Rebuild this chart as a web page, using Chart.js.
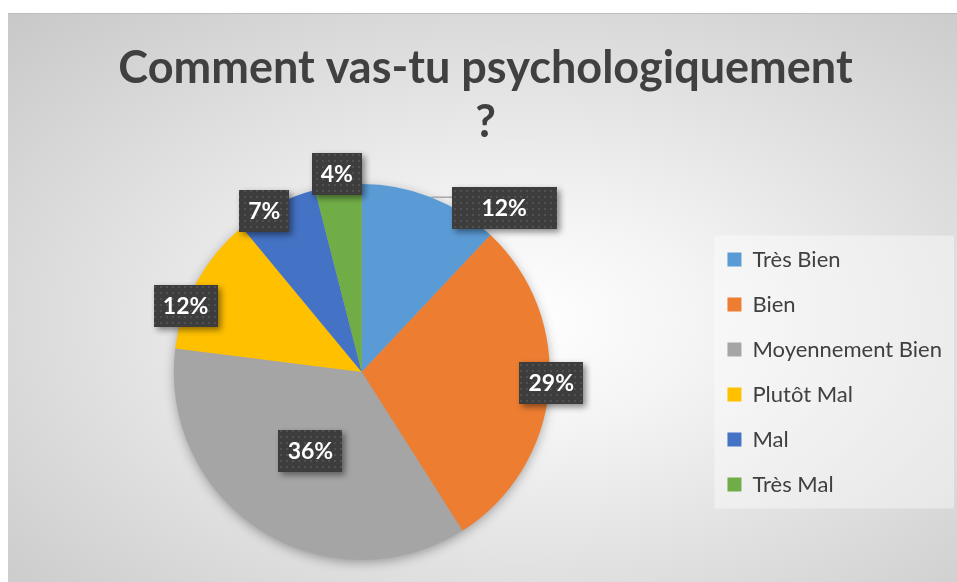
<!DOCTYPE html>
<html lang="fr">
<head>
    <meta charset="UTF-8">
    <title>Comment vas-tu psychologiquement ?</title>
    <script src="https://cdn.jsdelivr.net/npm/chart.js@4.4.1/dist/chart.umd.min.js"></script>
    <style>
        html, body { margin: 0; padding: 0; background: #fff; overflow: hidden; }
        #card {
            position: absolute; left: 8px; top: 13px; width: 949px; height: 568px;
            border-top: 1px solid #bdbdbd;
            background: radial-gradient(ellipse farthest-corner at 54% 54%, #ffffff 0%, #f4f4f4 25%, #c8c8c8 100%);
        }
        #card canvas { display: block; }
    </style>
</head>
<body>
<div id="card"><canvas id="pie" width="949" height="568"></canvas></div>
<script>
    // data
    const categories = ['Très Bien', 'Bien', 'Moyennement Bien', 'Plutôt Mal', 'Mal', 'Très Mal'];
    const percentages = [12, 29, 36, 12, 7, 4];
    const titleLines = ['Comment vas-tu psychologiquement', '?'];

    const sliceColors = ['#5B9BD5', '#ED7D31', '#A5A5A5', '#FFC000', '#4472C4', '#70AD47'];

    // where Excel put each data label: radius factor, angle shift (deg), optional box width
    const labelPlacement = [
        { f: 1.155, da: 19.4, w: 105 },
        { f: 1.01, da: -2 },
        { f: 0.5, da: 0.7 },
        { f: 1.0, da: -8.3 },
        { f: 1.0, da: -4.2 },
        { f: 1.06, da: 0 },
    ];

    let dots = null;
    function dotPattern(ctx) {
        if (dots) return dots;
        let c = document.createElement('canvas');
        c.width = 6; c.height = 6;
        let p = c.getContext('2d');
        p.fillStyle = '#3d3d3d';
        p.fillRect(0, 0, 6, 6);
        p.fillStyle = '#505050';
        p.fillRect(2, 2, 2, 2);
        dots = ctx.createPattern(c, 'repeat');
        return dots;
    }

    const legendBack = {
        id: 'legendBack',
        beforeDraw(chart) {
            let boxes = chart.legend && chart.legend.legendHitBoxes;
            if (!boxes || !boxes.length) return;
            let ctx = chart.ctx;
            let left = Math.min(...boxes.map(b => b.left)) - 13;
            let top = Math.min(...boxes.map(b => b.top)) - 13;
            let bottom = Math.max(...boxes.map(b => b.top + b.height)) + 13;
            ctx.save();
            ctx.fillStyle = 'rgba(255,255,255,0.4)';
            ctx.fillRect(left, top, chart.width - 3 - left, bottom - top);
            ctx.restore();
        }
    };

    const pieShadow = {
        id: 'pieShadow',
        beforeDatasetsDraw(chart) {
            let arc = chart.getDatasetMeta(0).data[0];
            if (!arc) return;
            let { x, y, outerRadius } = arc.getProps(['x', 'y', 'outerRadius'], true);
            let ctx = chart.ctx;
            ctx.save();
            ctx.shadowColor = 'rgba(0,0,0,0.35)';
            ctx.shadowBlur = 12;
            ctx.shadowOffsetY = 3;
            ctx.fillStyle = '#a5a5a5';
            ctx.beginPath();
            ctx.arc(x, y, outerRadius - 1, 0, Math.PI * 2);
            ctx.fill();
            ctx.restore();
        }
    };

    const boxLabels = {
        id: 'boxLabels',
        afterDatasetsDraw(chart) {
            let ctx = chart.ctx;
            let meta = chart.getDatasetMeta(0);
            ctx.save();
            ctx.font = 'bold 23px Lato';
            ctx.textAlign = 'center';
            ctx.textBaseline = 'middle';
            meta.data.forEach((arc, i) => {
                let { x, y, startAngle, endAngle, outerRadius } =
                    arc.getProps(['x', 'y', 'startAngle', 'endAngle', 'outerRadius'], true);
                let place = labelPlacement[i];
                let mid = (startAngle + endAngle) / 2;
                let ang = mid + place.da * Math.PI / 180;
                let cx = x + Math.cos(ang) * outerRadius * place.f;
                let cy = y + Math.sin(ang) * outerRadius * place.f;
                let text = percentages[i] + '%';
                let w = place.w || Math.round(ctx.measureText(text).width + 18);
                let h = 42;
                let bx = Math.round(cx - w / 2), by = Math.round(cy - h / 2);

                if (place.f > 1.1) {
                    // leader line from the slice edge to the box
                    let ex = x + Math.cos(mid) * outerRadius;
                    let ey = y + Math.sin(mid) * outerRadius;
                    let tx = Math.min(Math.max(ex, bx), bx + w);
                    let ty = Math.min(Math.max(ey, by), by + h);
                    ctx.strokeStyle = '#a6a6a6';
                    ctx.lineWidth = 1.5;
                    ctx.beginPath();
                    ctx.moveTo(ex, ey);
                    ctx.lineTo(tx, ty);
                    ctx.stroke();
                }

                ctx.save();
                ctx.shadowColor = 'rgba(0,0,0,0.45)';
                ctx.shadowBlur = 6;
                ctx.shadowOffsetX = 3;
                ctx.shadowOffsetY = 3;
                ctx.fillStyle = dotPattern(ctx);
                ctx.fillRect(bx, by, w, h);
                ctx.restore();

                ctx.fillStyle = '#ffffff';
                ctx.fillText(text, cx, by + h / 2 + 1);
            });
            ctx.restore();
        }
    };

    let ctx = document.getElementById('pie').getContext('2d');
    new Chart(ctx, {
        type: 'pie',
        data: {
            labels: categories,
            datasets: [{
                data: percentages,
                backgroundColor: sliceColors,
                borderWidth: 0,
            }]
        },
        options: {
            responsive: false,
            devicePixelRatio: 1,
            animation: false,
            layout: {
                padding: { top: 0, left: 11, right: 5, bottom: 22 },
            },
            plugins: {
                tooltip: { enabled: false },
                title: {
                    display: true,
                    text: titleLines,
                    color: '#404040',
                    font: { family: 'Lato', size: 45, weight: 'bold', lineHeight: '54px' },
                    padding: { top: 27, bottom: 35 },
                },
                legend: {
                    position: 'right',
                    fullSize: false,
                    labels: {
                        color: '#404040',
                        boxWidth: 14,
                        boxHeight: 14,
                        padding: 23,
                        font: { family: 'Lato', size: 22 },
                    },
                },
            },
        },
        plugins: [legendBack, pieShadow, boxLabels],
    });
</script>
</body>
</html>
